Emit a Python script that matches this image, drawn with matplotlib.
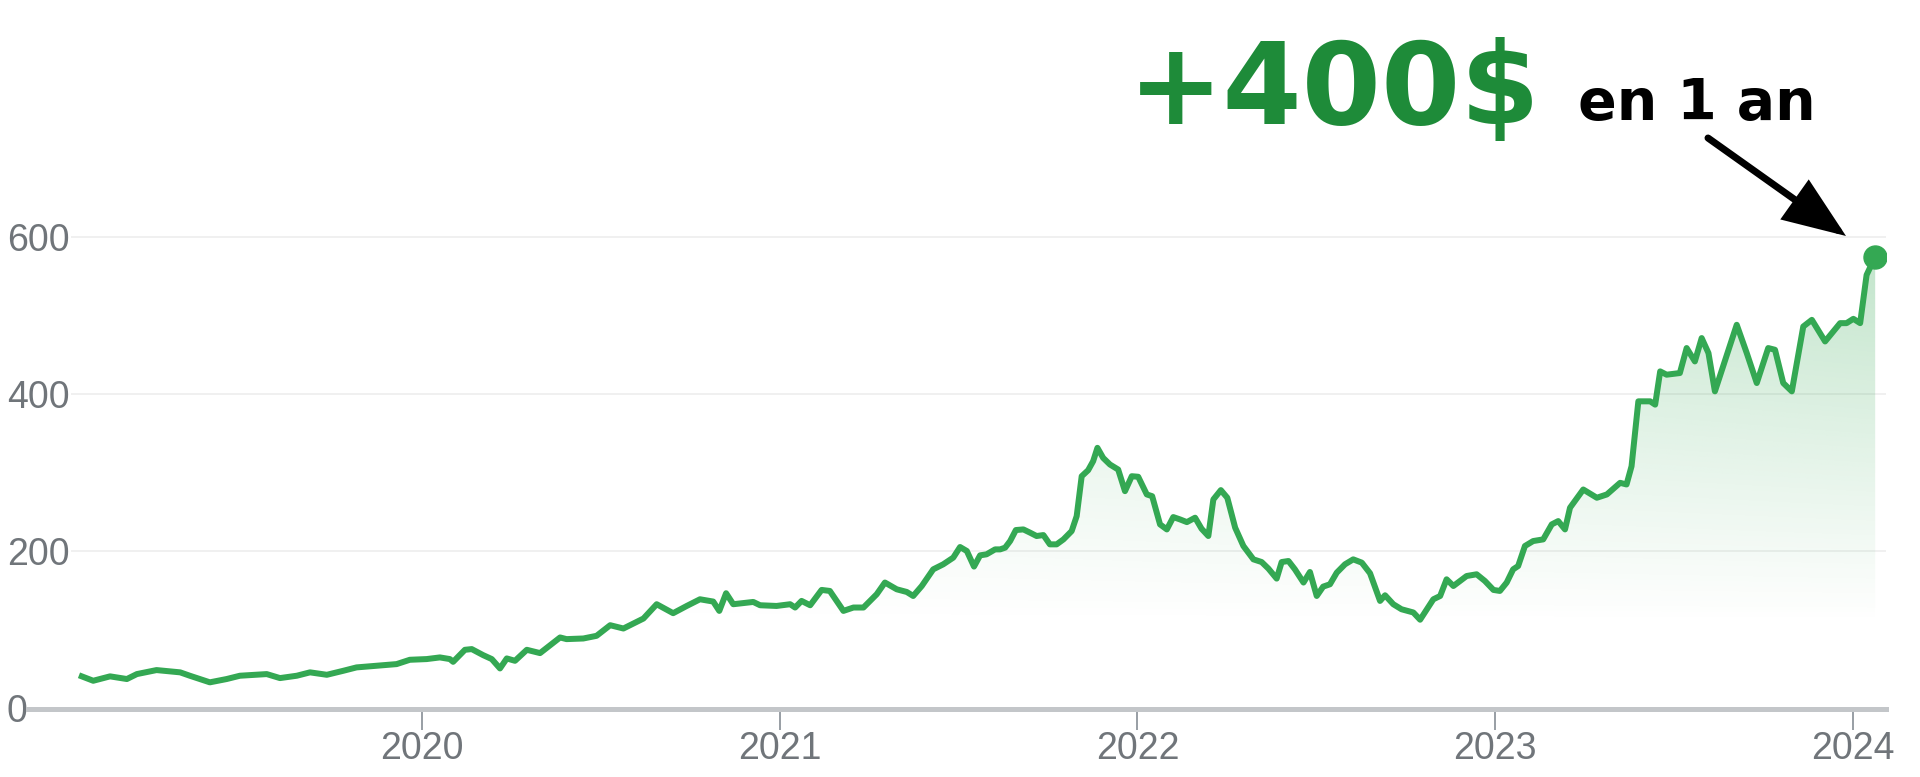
import numpy as np
import matplotlib
matplotlib.use("Agg")
import matplotlib.pyplot as plt
from matplotlib.patches import FancyArrowPatch

# ---------------- data ----------------
years = [
    2019.049, 2019.081, 2019.128, 2019.175, 2019.203, 2019.258, 2019.324, 2019.351,
    2019.407, 2019.454, 2019.491, 2019.566, 2019.603, 2019.650, 2019.687, 2019.734,
    2019.780, 2019.817, 2019.873, 2019.929, 2019.966, 2020.013, 2020.050, 2020.078,
    2020.087, 2020.120, 2020.139, 2020.171, 2020.195, 2020.218, 2020.237, 2020.260,
    2020.293, 2020.330, 2020.386, 2020.404, 2020.451, 2020.488, 2020.526, 2020.563,
    2020.591, 2020.619, 2020.656, 2020.702, 2020.740, 2020.777, 2020.814, 2020.831,
    2020.850, 2020.870, 2020.926, 2020.945, 2020.991, 2021.029, 2021.043, 2021.061,
    2021.085, 2021.117, 2021.140, 2021.178, 2021.206, 2021.234, 2021.271, 2021.294,
    2021.327, 2021.355, 2021.373, 2021.397, 2021.429, 2021.457, 2021.485, 2021.504,
    2021.523, 2021.543, 2021.560, 2021.578, 2021.602, 2021.616, 2021.630, 2021.644,
    2021.660, 2021.681, 2021.700, 2021.718, 2021.737, 2021.755, 2021.774, 2021.793,
    2021.816, 2021.830, 2021.844, 2021.862, 2021.876, 2021.888, 2021.904, 2021.923,
    2021.946, 2021.965, 2021.984, 2022.002, 2022.026, 2022.041, 2022.063, 2022.082,
    2022.100, 2022.119, 2022.138, 2022.161, 2022.179, 2022.198, 2022.212, 2022.233,
    2022.251, 2022.273, 2022.296, 2022.324, 2022.347, 2022.366, 2022.389, 2022.403,
    2022.422, 2022.440, 2022.464, 2022.482, 2022.501, 2022.519, 2022.538, 2022.557,
    2022.580, 2022.603, 2022.627, 2022.650, 2022.678, 2022.692, 2022.715, 2022.738,
    2022.771, 2022.790, 2022.827, 2022.846, 2022.864, 2022.883, 2022.920, 2022.948,
    2022.971, 2022.995, 2023.013, 2023.032, 2023.050, 2023.064, 2023.083, 2023.106,
    2023.134, 2023.158, 2023.176, 2023.195, 2023.209, 2023.246, 2023.284, 2023.312,
    2023.349, 2023.367, 2023.381, 2023.400, 2023.433, 2023.447, 2023.461, 2023.479,
    2023.516, 2023.535, 2023.558, 2023.577, 2023.596, 2023.614, 2023.675, 2023.703,
    2023.731, 2023.763, 2023.782, 2023.805, 2023.829, 2023.861, 2023.885, 2023.922,
    2023.964, 2023.982, 2024.001, 2024.020, 2024.038, 2024.062,
]
prices = [
    40.9, 35.3, 40.9, 37.5, 43.8, 48.9, 46.0, 41.7,
    33.3, 37.5, 41.7, 43.8, 38.7, 41.7, 46.0, 42.9,
    48.0, 52.3, 54.4, 56.5, 62.0, 62.9, 65.0, 62.9,
    59.4, 74.7, 75.6, 67.9, 62.9, 51.0, 63.7, 60.7,
    74.7, 70.5, 90.4, 88.3, 89.1, 92.5, 106.0, 101.8,
    108.2, 114.5, 132.7, 121.3, 130.5, 139.0, 136.1, 124.2,
    146.7, 132.7, 135.6, 131.4, 130.5, 132.7, 128.5, 136.9,
    131.4, 150.9, 149.6, 124.2, 128.5, 128.5, 145.4, 160.3,
    151.7, 148.3, 143.2, 155.9, 177.1, 183.5, 192.0, 205.5,
    200.4, 180.6, 194.9, 196.2, 202.5, 202.5, 204.7, 213.1,
    227.1, 227.9, 223.7, 219.5, 220.7, 208.9, 208.9, 215.2,
    225.8, 244.8, 295.6, 303.2, 314.7, 331.7, 318.9, 310.5,
    304.1, 276.6, 295.6, 294.9, 272.4, 270.2, 234.3, 227.9,
    243.6, 240.6, 237.2, 242.8, 228.8, 219.5, 266.0, 277.9,
    268.2, 230.1, 206.8, 189.8, 186.4, 178.0, 165.3, 186.4,
    187.7, 177.1, 160.3, 173.7, 143.2, 155.1, 158.1, 172.9,
    183.5, 189.8, 185.6, 172.1, 136.9, 144.1, 132.7, 126.3,
    122.2, 113.0, 139.0, 143.2, 164.4, 155.9, 168.6, 170.8,
    162.3, 150.9, 149.6, 160.3, 177.1, 181.3, 206.8, 213.1,
    215.2, 234.3, 238.5, 227.9, 255.5, 278.7, 268.2, 272.4,
    287.2, 285.1, 308.3, 390.9, 390.9, 386.7, 429.0, 424.8,
    426.9, 458.7, 441.7, 471.4, 452.3, 403.6, 488.3, 452.3,
    414.2, 458.7, 456.5, 414.2, 403.6, 486.1, 494.6, 467.1,
    490.4, 490.4, 495.9, 490.4, 551.7, 575.0,
]
year_ticks = [2020, 2021, 2022, 2023, 2024]
year_labels = ["2020", "2021", "2022", "2023", "2024"]
price_ticks = [0, 200, 400, 600]
price_labels = ["0", "200", "400", "600"]
headline = "+400$"
subline = "en 1 an"

# ---------------- styling ----------------
W, H, DPI = 1920, 777, 100
PT = 72.0 / DPI  # points per pixel
GREEN = "#34a853"
DARK_GREEN = "#1e8b39"
LABEL_GREY = "#70757a"

fig = plt.figure(figsize=(W / DPI, H / DPI), dpi=DPI)
fig.patch.set_facecolor("white")

# axes geometry in pixels (top-origin)
ax_left_px, ax_right_px = 28, 1886
ax_bottom_px, ax_top_px = 708.5, 140
ax = fig.add_axes([ax_left_px / W, 1 - ax_bottom_px / H,
                   (ax_right_px - ax_left_px) / W, (ax_bottom_px - ax_top_px) / H])

px_per_year = 357.75
px_per_unit = 0.7858
x0 = 2020 - (422 - ax_left_px) / px_per_year
x1 = 2020 + (ax_right_px - 422) / px_per_year
ytop = (ax_bottom_px - ax_top_px) / px_per_unit

x = np.array(years)
y = np.array(prices)

# gradient fill under the curve
gx = np.linspace(x0, x1, 500)
gy = np.linspace(0, ytop, 400)
GX, GY = np.meshgrid(gx, gy)
alpha = 0.30 * np.clip((GY - 110) / 470, 0, 1) * (0.3 + 0.7 * np.clip((GX - 2019.0) / 5.06, 0, 1))
rgba = np.zeros(GX.shape + (4,))
rgba[..., 0] = 52 / 255
rgba[..., 1] = 168 / 255
rgba[..., 2] = 83 / 255
rgba[..., 3] = alpha
im = ax.imshow(rgba, extent=[x0, x1, 0, ytop], origin="lower", aspect="auto",
               interpolation="bilinear", zorder=1)
poly = ax.fill_between(x, y, 0, facecolor="none", edgecolor="none")
im.set_clip_path(poly.get_paths()[0], transform=ax.transData)

# grid lines (start a bit right of the axis start)
grid_start = (72 - ax_left_px) / (ax_right_px - ax_left_px)
for v in price_ticks[1:]:
    ax.axhline(v, xmin=grid_start, xmax=1, color="#f0f0f0", lw=2 * PT, zorder=0)

ax.plot(x, y, color=GREEN, lw=6 * PT, solid_joinstyle="round", zorder=3)
ax.plot(x[-1:], y[-1:], "o", color=GREEN, ms=23 * PT, zorder=4)

ax.set_xlim(x0, x1)
ax.set_ylim(0, ytop)

for s in ["top", "right", "left"]:
    ax.spines[s].set_visible(False)
ax.spines["bottom"].set_color("#c3c6c9")
ax.spines["bottom"].set_linewidth(5 * PT)
ax.spines["bottom"].set_zorder(2)

ax.set_xticks(year_ticks)
ax.set_xticklabels(year_labels)
ax.set_yticks(price_ticks)
ax.set_yticklabels(price_labels)

tick_family = ["Liberation Sans", "DejaVu Sans"]
tick_size = 27
ax.tick_params(axis="x", direction="out", length=21 * PT, width=2 * PT,
               color="#9aa0a6", labelcolor=LABEL_GREY, pad=1)
ax.tick_params(axis="y", length=0, pad=(ax_left_px - 7) * PT, labelcolor=LABEL_GREY)
for lab in ax.get_xticklabels():
    lab.set_fontfamily(tick_family)
    lab.set_fontsize(tick_size)
for lab in ax.get_yticklabels():
    lab.set_fontfamily(tick_family)
    lab.set_fontsize(tick_size)
    lab.set_horizontalalignment("left")

# headline texts
fig.text(1128 / W, 1 - 124 / H, headline, color=DARK_GREEN, fontsize=82,
         fontweight="bold", family="DejaVu Sans", ha="left", va="baseline")
fig.text(1578 / W, 1 - 120 / H, subline, color="black", fontsize=41,
         fontweight="bold", family="DejaVu Sans", ha="left", va="baseline")

arrow = FancyArrowPatch((1708 / W, 1 - 138 / H), (1846 / W, 1 - 236 / H),
                        transform=fig.transFigure,
                        arrowstyle="-|>,head_length=0.36,head_width=0.14",
                        mutation_scale=100, lw=7 * PT, color="black",
                        shrinkA=0, shrinkB=0, joinstyle="miter")
fig.patches.append(arrow)

fig.savefig("out.png", dpi=DPI, facecolor="white")
